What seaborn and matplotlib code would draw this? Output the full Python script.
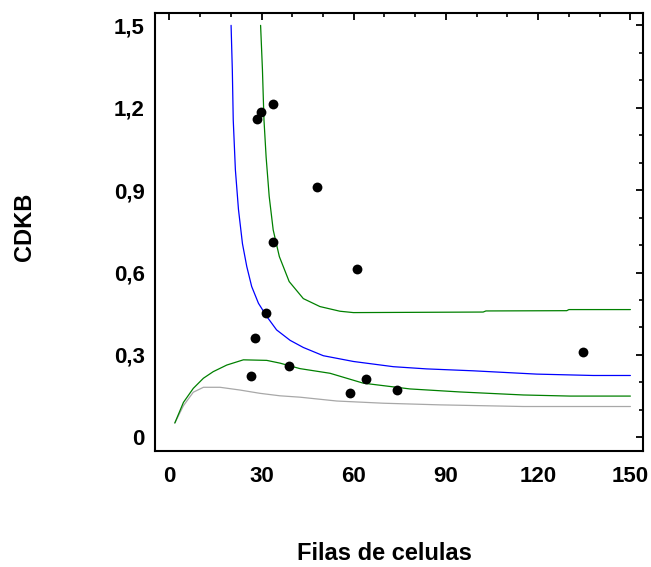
import matplotlib
matplotlib.use("Agg")
import matplotlib.pyplot as plt
import seaborn as sns
from matplotlib.ticker import MultipleLocator, FixedLocator

# Observed points
obs_x = [28.6, 29.9, 33.7, 48.0, 33.7, 61.0, 31.6, 27.9, 134.7, 38.8, 26.6, 63.9, 58.9, 74.0]
obs_y = [1.160, 1.184, 1.212, 0.912, 0.711, 0.612, 0.452, 0.363, 0.312, 0.260, 0.222, 0.214, 0.161, 0.171]

# Fitted curve (blue)
fit_x = [20.1, 20.5, 20.8, 21.5, 22.5, 23.8, 25.2, 26.8, 29.0, 31.7, 34.9, 39.3, 43.6,
         50.1, 59.9, 72.9, 83.7, 98.9, 119.5, 137.9, 150.0]
fit_y = [1.500, 1.339, 1.156, 0.974, 0.830, 0.705, 0.622, 0.549, 0.488, 0.440, 0.391, 0.353, 0.327,
         0.297, 0.276, 0.257, 0.249, 0.242, 0.230, 0.225, 0.225]

# Upper limit (green)
up_x = [29.7, 30.3, 30.8, 31.5, 32.5, 33.8, 35.8, 39.0, 43.6, 49.0, 55.5, 59.9,
        102.1, 103.0, 129.3, 130.0, 150.0]
up_y = [1.500, 1.339, 1.156, 1.020, 0.877, 0.755, 0.658, 0.567, 0.505, 0.476, 0.459, 0.454,
        0.456, 0.460, 0.461, 0.465, 0.465]

# Lower limit (green)
lo_x = [1.8, 4.6, 7.8, 11.1, 14.3, 18.7, 24.1, 31.7, 36.0, 42.5, 52.3, 63.1, 78.3,
        94.6, 115.2, 130.4, 150.0]
lo_y = [0.052, 0.127, 0.178, 0.215, 0.239, 0.263, 0.282, 0.280, 0.270, 0.250, 0.233, 0.197, 0.176,
        0.165, 0.154, 0.150, 0.150]

# Lower curve (gray)
gr_x = [1.8, 4.6, 7.8, 11.1, 16.5, 23.0, 29.5, 36.0, 42.5, 54.5, 69.6, 88.1, 115.2, 150.0]
gr_y = [0.052, 0.115, 0.164, 0.182, 0.182, 0.172, 0.160, 0.151, 0.146, 0.132, 0.124, 0.118, 0.112, 0.112]

x_ticks = [0, 30, 60, 90, 120, 150]
x_tick_labels = ["0", "30", "60", "90", "120", "150"]
y_ticks = [0, 0.3, 0.6, 0.9, 1.2, 1.5]
y_tick_labels = ["0", "0,3", "0,6", "0,9", "1,2", "1,5"]

sns.set_style("white")
plt.rcParams['font.family'] = ['Liberation Sans', 'DejaVu Sans']
plt.rcParams['text.color'] = 'black'
plt.rcParams['axes.labelcolor'] = 'black'
plt.rcParams['xtick.color'] = 'black'
plt.rcParams['ytick.color'] = 'black'

fig = plt.figure(figsize=(6.51, 5.67), dpi=100)
ax = fig.add_axes([155/651, 1 - 451/567, (643-155)/651, (451-13)/567])

lw = 0.9
sns.lineplot(x=gr_x, y=gr_y, ax=ax, color="#a8a8a8", linewidth=lw, sort=False)
sns.lineplot(x=lo_x, y=lo_y, ax=ax, color="#008000", linewidth=lw, sort=False)
sns.lineplot(x=up_x, y=up_y, ax=ax, color="#008000", linewidth=lw, sort=False)
sns.lineplot(x=fit_x, y=fit_y, ax=ax, color="#0000ff", linewidth=lw, sort=False)
sns.scatterplot(x=obs_x, y=obs_y, ax=ax, color="black", s=50, edgecolor="black", linewidth=0, zorder=5)

ax.set_xlim(-4.65, 154.1)
ax.set_ylim(-0.05, 1.545)

ax.xaxis.set_major_locator(FixedLocator(x_ticks))
ax.yaxis.set_major_locator(FixedLocator(y_ticks))
ax.xaxis.set_minor_locator(MultipleLocator(10))
ax.yaxis.set_minor_locator(MultipleLocator(0.1))
ax.set_xticklabels(x_tick_labels, fontsize=16, fontweight="bold", color="black")
ax.set_yticklabels(y_tick_labels, fontsize=16, fontweight="bold", color="black")

ax.tick_params(axis="both", which="major", direction="in", length=5, width=1.3,
               top=True, right=True, color="black", labelcolor="black")
ax.tick_params(axis="both", which="minor", direction="in", length=3, width=1.2,
               top=True, right=True, color="black")
ax.tick_params(axis="x", which="major", pad=11)
ax.tick_params(axis="y", which="major", pad=7.5)

for s in ax.spines.values():
    s.set_visible(True)
    s.set_color("black")
    s.set_linewidth(1.5)

ax.set_xlabel("Filas de celulas", fontsize=17, fontweight="bold", color="black")
ax.set_ylabel("CDKB", fontsize=17, fontweight="bold", color="black")
ax.xaxis.set_label_coords((384-155)/488, -(553-451)/438)
ax.yaxis.set_label_coords(-(155-25)/488, (451-227)/438)
ax.xaxis.label.set_va("center")
ax.yaxis.label.set_va("center")

fig.savefig("out.png", dpi=100)
